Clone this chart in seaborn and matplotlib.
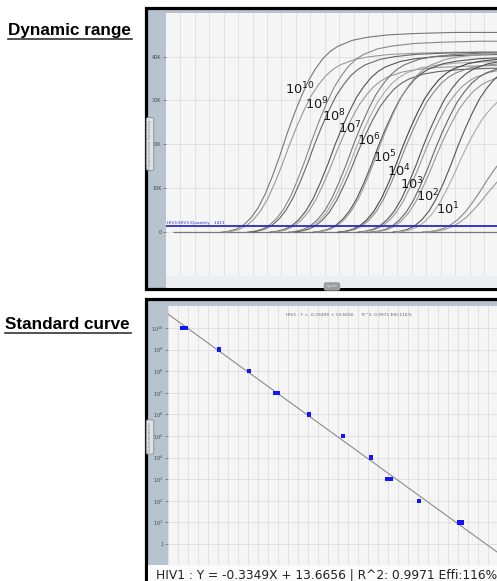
import numpy as np
import pandas as pd
import matplotlib
matplotlib.use("Agg")
import matplotlib.pyplot as plt
import matplotlib.patches as patches
from matplotlib.lines import Line2D
import seaborn as sns

# ---- data ----
# threshold-crossing cycle for every amplification curve, with its dilution
curve_exp = [10, 10, 9, 9, 8, 8, 7, 7, 7, 6, 6, 5, 5, 4, 4, 3, 3, 2, 2, 1, 1]
curve_ct = [10.45, 10.85, 14.0, 14.3, 17.1, 17.4, 19.7, 20.0, 20.3, 23.1, 23.4,
            26.5, 26.8, 29.3, 29.6, 31.0, 31.3, 34.1, 34.5, 38.1, 38.4]
curve_plateau = [45500, 41000, 43500, 41000, 40500, 38000, 41000, 39000, 37500,
                 40000, 41000, 40000, 39000, 40000, 38000, 39000, 37000, 40000,
                 34000, 24000, 19000]
curve_grey = ['#777777', '#999999', '#888888', '#666666', '#555555', '#999999',
              '#777777', '#aaaaaa', '#666666', '#555555', '#999999', '#444444',
              '#888888', '#555555', '#999999', '#666666', '#999999', '#555555',
              '#aaaaaa', '#888888', '#999999']
# shape of one curve: fraction of plateau vs cycles after the curve starts
shape_offset = [0, 1, 2, 3, 4, 5, 6, 7, 8, 9, 10, 11, 12, 13, 14, 15, 16, 18, 20, 23, 27, 32, 40]
shape_frac = [0.0, 0.005, 0.015, 0.035, 0.07, 0.12, 0.19, 0.28, 0.38, 0.49, 0.59,
              0.68, 0.76, 0.82, 0.87, 0.905, 0.93, 0.96, 0.975, 0.988, 0.995, 1.0, 1.0]
threshold = 1411

# labels on the amplification plot (left x in cycles, y in RFU)
label_exp = [10, 9, 8, 7, 6, 5, 4, 3, 2, 1]
label_x = [16.45, 19.2, 21.6, 23.8, 26.4, 28.6, 30.6, 32.4, 34.6, 37.4]
label_y = [32600, 29200, 26500, 23700, 21000, 17100, 13900, 10900, 8200, 5200]

# standard curve points
std_ct = [10.45, 10.85, 14.11, 17.10, 19.7, 20.0, 23.12, 26.52, 29.31, 30.95,
          31.25, 34.13, 38.1, 38.4]
std_exp = [10, 10, 9, 8, 7, 7, 6, 5, 4, 3, 3, 2, 1, 1]
fit_slope = -0.3349
fit_intercept = 13.6656
fit_x = [9, 42]

W, H = 497, 581


def fx(x):
    return x / W


def fy(y):
    return 1 - y / H


def rect(fig, x0, y0, x1, y1, **kw):
    r = patches.Rectangle((fx(x0), fy(y1)), fx(x1) - fx(x0), fy(y0) - fy(y1),
                          transform=fig.transFigure, **kw)
    fig.add_artist(r)


def main():
    fig = plt.figure(figsize=(W / 100, H / 100), dpi=100)
    fig.patch.set_facecolor('white')

    # section titles
    title_font = dict(family=['Liberation Sans', 'DejaVu Sans'],
                      weight='bold', fontsize=12.3, color='black')
    fig.text(fx(8), fy(35), 'Dynamic range', ha='left', va='baseline', **title_font)
    fig.add_artist(Line2D([fx(8), fx(132)], [fy(39), fy(39)], color='#333333', lw=1.2,
                          transform=fig.transFigure))
    fig.text(fx(5), fy(329), 'Standard curve', ha='left', va='baseline', **title_font)
    fig.add_artist(Line2D([fx(5), fx(131)], [fy(333), fy(333)], color='#333333', lw=1.2,
                          transform=fig.transFigure))

    # ---- top frame ----
    rect(fig, 146, 7.5, 520, 289, facecolor='#b7c3cf', edgecolor='black', lw=2.3, zorder=0)
    rect(fig, 165.7, 276, 520, 287.5, facecolor='#eceef0', edgecolor='none', zorder=0.5)

    ax = fig.add_axes([fx(165.7), fy(276), fx(497) - fx(165.7), fy(12.7) - fy(276)])
    ax.set_facecolor('#f5f5f5')

    rows = []
    for i, (ct, plat) in enumerate(zip(curve_ct, curve_plateau)):
        start = ct - 2.7
        for off, frac in zip(shape_offset, shape_frac):
            rows.append({'curve': i, 'cycle': start + off, 'rfu': plat * frac})
    df = pd.DataFrame(rows)

    ax.hlines(0, 1, 47, color='#777777', lw=0.9, zorder=2)
    sns.lineplot(data=df, x='cycle', y='rfu', hue='curve', palette=curve_grey,
                 lw=0.8, legend=False, sort=True, ax=ax, zorder=3)
    ax.axhline(threshold, color='#2a2ac8', lw=1.3, zorder=4)
    ax.text(0.2, threshold + 250, 'HIV1(HIV1)Quantity   1411', fontsize=3.2,
            color='#3333cc', ha='left', va='bottom')

    for e, x, y in zip(label_exp, label_x, label_y):
        ax.text(x, y, f'$10^{{{e}}}$', fontsize=9.3, color='#1a1a1a',
                ha='left', va='center', zorder=5)

    ax.set_xlim(0, 45.8)
    ax.set_ylim(-10000, 50000)
    ax.set_xticks(range(2, 46, 2))
    ax.set_xticklabels([str(v) for v in range(2, 46, 2)])
    ax.set_yticks([0, 10000, 20000, 30000, 40000])
    ax.set_yticklabels(['0', '10K', '20K', '30K', '40K'])
    ax.tick_params(axis='x', length=0, labelsize=3.5, labelcolor='#4a5a80', pad=3)
    ax.tick_params(axis='y', length=2, width=0.5, color='#666666', labelsize=3.5,
                   labelcolor='#444444', pad=1)
    ax.grid(True, color='#dedede', lw=0.6)
    ax.set_axisbelow(True)
    ax.set_xlabel('')
    ax.set_ylabel('')
    for s in ax.spines.values():
        s.set_visible(False)

    fig.text(fx(150), fy(144), 'Fluorescence Intensity', rotation=90, fontsize=3.2,
             color='#888888', ha='center', va='center',
             bbox=dict(boxstyle='round,pad=0.4', facecolor='#dde2e7', edgecolor='#8a8a8a', lw=0.6))
    fig.text(fx(332), fy(286.5), 'Cycle', fontsize=3.2, color='#eeeeee', ha='center',
             va='center', bbox=dict(boxstyle='round,pad=0.5', facecolor='#9a9a9a',
                                    edgecolor='none'))

    # ---- bottom frame ----
    rect(fig, 146, 299, 520, 600, facecolor='#b7c3cf', edgecolor='black', lw=2.3, zorder=0)

    ax2 = fig.add_axes([fx(167.7), fy(565), fx(497) - fx(167.7), fy(305.7) - fy(565)])
    ax2.set_facecolor('#f5f5f5')
    ax2.set_yscale('log')

    fit_y = [10 ** (fit_intercept + fit_slope * x) for x in fit_x]
    sns.lineplot(x=fit_x, y=fit_y, color='#8c8c8c', lw=0.8, ax=ax2, zorder=3)
    pts = pd.DataFrame({'ct': std_ct, 'conc': [10.0 ** e for e in std_exp]})
    sns.scatterplot(data=pts, x='ct', y='conc', marker='s', s=10, color='#1414ff',
                    edgecolor='none', ax=ax2, zorder=4)

    ax2.set_xlim(9, 41.9)
    ax2.set_ylim(10 ** -0.97, 10 ** 11.03)
    ax2.set_xticks(range(9, 42))
    ax2.set_xticklabels([])
    ax2.set_yticks([10.0 ** e for e in range(0, 11)])
    ax2.set_yticklabels(['1'] + [f'$10^{{{e}}}$' for e in range(1, 11)])
    ax2.minorticks_off()
    ax2.tick_params(axis='x', length=0)
    ax2.tick_params(axis='y', length=2, width=0.5, color='#666666', labelsize=3.5,
                    labelcolor='#444444', pad=1)
    ax2.grid(True, color='#dedede', lw=0.6)
    ax2.set_axisbelow(True)
    ax2.set_xlabel('')
    ax2.set_ylabel('')
    for s in ax2.spines.values():
        s.set_visible(False)

    ax2.text(0.55, 0.965, 'HIV1 : Y = -0.3349X + 13.6656      R^2: 0.9971 Effi:116%',
             transform=ax2.transAxes, fontsize=3.2, color='#666666', ha='center', va='center')

    fig.text(fx(150), fy(437), 'Concentration', rotation=90, fontsize=3.2,
             color='#888888', ha='center', va='center',
             bbox=dict(boxstyle='round,pad=0.4', facecolor='#dde2e7', edgecolor='#8a8a8a', lw=0.6))

    rect(fig, 148, 565, 520, 590, facecolor='#fbfbfb', edgecolor='none', zorder=1)
    fig.text(fx(156), fy(578.5), 'HIV1 : Y = -0.3349X + 13.6656 | R^2: 0.9971 Effi:116%',
             ha='left', va='baseline', fontsize=8.8,
             family=['DejaVu Sans'], color='#222222', zorder=2)

    fig.savefig('out.png', dpi=100)
    plt.close(fig)


if __name__ == "__main__":
    main()
